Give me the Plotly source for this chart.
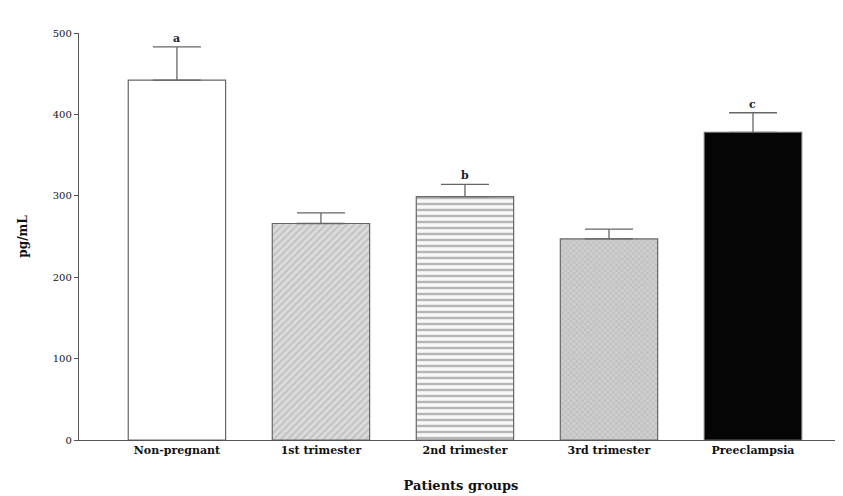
import plotly.graph_objects as go

categories = ["Non-pregnant", "1st trimester", "2nd trimester", "3rd trimester", "Preeclampsia"]
means = [442, 266, 299, 247, 378]
sem = [41, 13, 15, 12, 24]
letters = ["a", "", "b", "", "c"]
y_ticks = [0, 100, 200, 300, 400, 500]

FONT = "DejaVu Serif"
AX = "#555555"

fills = ["#ffffff", "#dadada", "#f8f8f8", "#cecece", "#050505"]
shapes = ["", "/", "-", "x", ""]
fgs = ["#ffffff", "#bdbdbd", "#b6b6b6", "#b4b4b4", "#050505"]
psizes = [6, 5, 6, 4, 6]
solid = [0.2, 0.3, 0.4, 0.3, 0.2]

fig = go.Figure()
for i, c in enumerate(categories):
    fig.add_trace(go.Bar(
        x=[c],
        y=[means[i]],
        marker=dict(
            color=fills[i],
            line=dict(color="#666666", width=1.2),
            pattern=dict(shape=shapes[i], fgcolor=fgs[i], fgopacity=1,
                         size=psizes[i], solidity=solid[i], fillmode="overlay"),
        ),
        error_y=dict(type="data", array=[sem[i]], arrayminus=[0], symmetric=False,
                     color="#666666", thickness=1.3, width=24),
        width=0.676,
        showlegend=False,
    ))

for c, m, s, l in zip(categories, means, sem, letters):
    if l:
        fig.add_annotation(x=c, y=m + s, text="<b>" + l + "</b>", showarrow=False,
                           yanchor="bottom", yshift=0,
                           font=dict(family=FONT, size=11, color="#222222"))

fig.update_layout(
    width=835, height=488,
    margin=dict(l=71, r=0, t=25, b=56),
    barmode="overlay",
    paper_bgcolor="#ffffff",
    plot_bgcolor="#ffffff",
    font=dict(family=FONT, color="#111111"),
    xaxis=dict(
        range=[-0.68, 4.625],
        categoryorder="array", categoryarray=categories,
        automargin=False,
        showline=True, linecolor=AX, linewidth=1.3,
        ticks="", showgrid=False, zeroline=False,
        tickfont=dict(family=FONT, size=11, color="#111111"),
        tickprefix="<b>", ticksuffix="</b>",
        title=dict(text="<b>Patients groups</b>", font=dict(family=FONT, size=13, color="#111111"),
                   standoff=24),
    ),
    yaxis=dict(
        range=[0, 500],
        automargin=False,
        tickvals=y_ticks,
        showline=True, linecolor=AX, linewidth=1.3,
        ticks="outside", ticklen=4, tickcolor=AX, tickwidth=1.2,
        showgrid=False, zeroline=False,
        tickfont=dict(family=FONT, size=10, color="#111111"),
        tickprefix="<b>", ticksuffix="</b>",
        title=dict(text="<b>pg/mL</b>", font=dict(family=FONT, size=12, color="#111111"),
                   standoff=22),
    ),
)

fig.write_html("out.html")
